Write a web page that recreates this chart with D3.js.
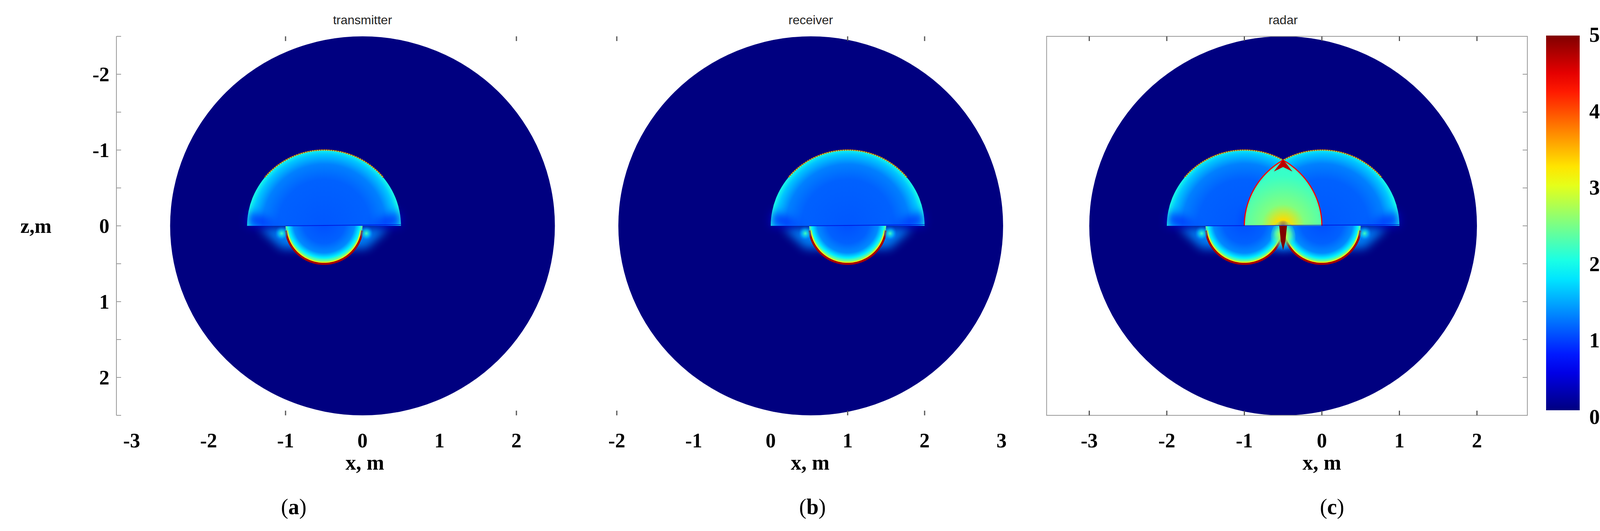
<!DOCTYPE html>
<html><head><meta charset="utf-8">
<script src="https://cdn.jsdelivr.net/npm/d3@7/dist/d3.min.js"></script>
<style>html,body{margin:0;background:#fff;overflow:hidden}</style>
</head><body>
<svg id="c" width="4177" height="1359"></svg>
<script>
// ---------------- data ----------------
const panelTitles = ["transmitter", "receiver", "radar"];
const panelLetters = ["a", "b", "c"];
const domainCenters = [0, 0.52, -0.5];      // x of circular domain centre (m)
const domainRadius = 2.5;                     // m
const capCenters = [[-0.5], [1.0], [-1.0, 0.0]];  // upper hemisphere centres (m)
const capRadius = 1.0;
const cupRadius = 0.5;
const capStops = [0, 0.6, 0.8, 0.93, 1.0];
const capValues = [1.05, 1.1, 1.25, 1.6, 2.0];
const cupStops = [0, 0.55, 0.8, 0.93, 1.0];
const cupValues = [1.0, 1.1, 1.3, 1.8, 2.4];
const rimValue = 4.6;
const lensStops = [0, 0.08, 0.3, 0.7, 1.0];
const lensValues = [4.6, 3.3, 2.5, 2.15, 2.1];
const glowValue = 1.3;
const spikeValue = 5.0;
const xTickLabels = [[-3, -2, -1, 0, 1, 2], [-2, -1, 0, 1, 2, 3], [-3, -2, -1, 0, 1, 2]];
const xFrameTicks = [[-1, 2], [-2, 1, 2], [-3, -2, -1, 0, 1, 2]];
const zTickLabels = [-2, -1, 0, 1, 2];
const zMinorTicks = [-2.5, -2, -1.5, -1, -0.5, 0, 0.5, 1, 1.5, 2, 2.5];
const colorbarTicks = [0, 1, 2, 3, 4, 5];

// ---------------- layout ----------------
const xOrigin = [928, 1973, 3384], xUnit = [197, 197, 198.5];
const zScale = d3.scaleLinear().domain([-2.5, 2.5]).range([93, 1063]);
const vmax = 5;
function jet(v) {
  const t = Math.max(0, Math.min(1, v / vmax));
  const c = x => Math.round(255 * Math.max(0, Math.min(1, 1.5 - Math.abs(x))));
  return `rgb(${c(4 * t - 3)},${c(4 * t - 2)},${c(4 * t - 1)})`;
}
const svg = d3.select("#c");
const defs = svg.append("defs");
let gid = 0;
function radial(cx, cy, r, offs, vals, opac) {
  const id = "g" + (gid++);
  const g = defs.append("radialGradient").attr("id", id).attr("gradientUnits", "userSpaceOnUse")
    .attr("cx", cx).attr("cy", cy).attr("r", r);
  vals.forEach((v, i) => g.append("stop").attr("offset", offs[i])
    .attr("stop-color", jet(v)).attr("stop-opacity", opac ? opac[i] : 1));
  return `url(#${id})`;
}
const serif = "'Liberation Serif','DejaVu Serif',serif";
const sans = "'Liberation Sans',Arial,sans-serif";
const blur = defs.append("filter").attr("id", "blur").attr("filterUnits", "userSpaceOnUse")
  .attr("x", 0).attr("y", 0).attr("width", 4177).attr("height", 1359);
blur.append("feGaussianBlur").attr("stdDeviation", 12);

panelTitles.forEach((title, p) => {
  const xs = d3.scaleLinear().domain([0, 1]).range([xOrigin[p], xOrigin[p] + xUnit[p]]);
  const ux = xUnit[p], uz = zScale(1) - zScale(0);
  const g = svg.append("g");
  const z0 = zScale(0);
  g.append("ellipse").attr("cx", xs(domainCenters[p])).attr("cy", zScale(0))
    .attr("rx", ux * domainRadius).attr("ry", uz * domainRadius).attr("fill", jet(0));
  const upper = (cx, r) => `M${xs(cx - r)},${z0} A${ux * r},${uz * r} 0 0 1 ${xs(cx + r)},${z0} Z`;
  const lower = (cx, r) => `M${xs(cx - r)},${z0} A${ux * r},${uz * r} 0 0 0 ${xs(cx + r)},${z0} Z`;
  const caps = capCenters[p];
  caps.forEach(cx => {
    g.append("path").attr("d", `M${xs(cx - 0.85)},${z0 + 4} L${xs(cx + 0.85)},${z0 + 4} L${xs(cx + 0.55)},${zScale(0.3)} L${xs(cx - 0.55)},${zScale(0.3)} Z`)
      .attr("fill", jet(glowValue)).attr("filter", "url(#blur)").attr("opacity", 0.9);
  });
  caps.forEach(cx => {
    g.append("path").attr("d", upper(cx, capRadius))
      .attr("fill", radial(xs(cx), z0, ux * capRadius, capStops, capValues));
    [-1, 1].forEach(s => g.append("path").attr("d", `M${xs(cx + s * 1.0)},${z0} L${xs(cx + s * 0.6)},${z0} L${xs(cx + s * 0.97)},${zScale(-0.2)} Z`)
      .attr("fill", jet(0.6)).attr("filter", "url(#blur)").attr("opacity", 0.7));
    const a0 = Math.PI * 0.22, a1 = Math.PI * 0.78;
    const arc = d3.range(a0, a1 + 0.001, (a1 - a0) / 60).map(a => [xs(cx + capRadius * Math.cos(a)), zScale(-capRadius * Math.sin(a))]);
    g.append("path").attr("d", d3.line()(arc)).attr("fill", "none").attr("stroke", jet(3.3)).attr("stroke-width", 3).attr("opacity", 0.7);
    g.append("path").attr("d", d3.line()(arc)).attr("fill", "none").attr("stroke", jet(rimValue + 0.3)).attr("stroke-width", 3).attr("stroke-dasharray", "2 4").attr("opacity", 0.8);
  });
  if (caps.length === 2) {
    const cid = "clip" + p;
    defs.append("clipPath").attr("id", cid).append("path").attr("d", upper(caps[1], capRadius));
    const lm = (caps[0] + caps[1]) / 2;
    g.append("path").attr("d", upper(caps[0], capRadius)).attr("clip-path", `url(#${cid})`)
      .attr("fill", radial(xs(lm), z0, uz * 0.95, lensStops, lensValues));
    [[caps[0], 0, Math.PI / 3], [caps[1], 2 * Math.PI / 3, Math.PI]].forEach(([cx, a0, a1]) => {
      const arc = d3.range(a0, a1 + 0.001, (a1 - a0) / 40).map(a => [xs(cx + capRadius * Math.cos(a)), zScale(-capRadius * Math.sin(a))]);
      g.append("path").attr("d", d3.line()(arc)).attr("fill", "none").attr("stroke", jet(4.4)).attr("stroke-width", 3);
    });
    const pk = -Math.sqrt(3) / 2;
    g.append("path").attr("d", `M${xs(lm)},${zScale(pk) - 2} L${xs(lm + 0.12)},${zScale(pk + 0.15)} L${xs(lm)},${zScale(pk + 0.09)} L${xs(lm - 0.12)},${zScale(pk + 0.15)} Z`)
      .attr("fill", jet(4.7));
  }
  caps.forEach(cc => {
    g.append("path").attr("d", lower(cc, cupRadius))
      .attr("fill", radial(xs(cc), zScale(-0.05), ux * cupRadius, cupStops, cupValues));
    const a0 = -Math.PI * 0.04, a1 = -Math.PI * 0.96;
    const arc = d3.range(a0, a1 - 0.001, (a1 - a0) / 60).map(a => [xs(cc + cupRadius * Math.cos(a)), zScale(-cupRadius * Math.sin(a))]);
    g.append("path").attr("d", d3.line()(arc)).attr("fill", "none").attr("stroke", jet(rimValue + 0.2)).attr("stroke-width", 6);
    const arc2 = arc.map(([x, y]) => [xs(cc) + (x - xs(cc)) * 0.96, z0 + (y - z0) * 0.96]);
    g.append("path").attr("d", d3.line()(arc2)).attr("fill", "none").attr("stroke", jet(3.0)).attr("stroke-width", 3);
    [-1, 1].forEach(s => g.append("ellipse").attr("cx", xs(cc + s * 0.55)).attr("cy", zScale(0.1))
      .attr("rx", ux * 0.08).attr("ry", uz * 0.12).attr("fill", radial(xs(cc + s * 0.55), zScale(0.1), ux * 0.1, [0, 0.5, 1], [2.2, 1.6, 1.0], [1, 0.6, 0])));
  });
  if (caps.length === 2) {
    const lm = (caps[0] + caps[1]) / 2;
    g.append("ellipse").attr("cx", xs(lm)).attr("cy", zScale(0.15)).attr("rx", ux * 0.16).attr("ry", uz * 0.22)
      .attr("fill", radial(xs(lm), zScale(0.12), ux * 0.2, [0, 0.5, 1], [3.0, 2.4, 1.6], [1, 0.7, 0]));
    g.append("path").attr("d", `M${xs(lm - 0.05)},${z0} L${xs(lm + 0.05)},${z0} L${xs(lm + 0.03)},${zScale(0.2)} L${xs(lm)},${zScale(0.32)} L${xs(lm - 0.03)},${zScale(0.2)} Z`)
      .attr("fill", jet(spikeValue));
  }
  const lx = [caps[0] - 0.5, caps[caps.length - 1] + 1];
  g.append("line").attr("x1", xs(lx[0])).attr("x2", xs(lx[1])).attr("y1", z0).attr("y2", z0 - 3)
    .attr("stroke", jet(0.4)).attr("stroke-width", 2).attr("opacity", 0.7);

  const xL = xs(-3.55), xR = xs(2.65), yT = zScale(-2.5), yB = zScale(2.5);
  if (p === 0) {
    svg.append("line").attr("x1", 298).attr("x2", 298).attr("y1", yT).attr("y2", yB).attr("stroke", "#999").attr("stroke-width", 2);
    zMinorTicks.forEach(z => svg.append("line").attr("x1", 298).attr("x2", 310).attr("y1", zScale(z)).attr("y2", zScale(z)).attr("stroke", "#999").attr("stroke-width", 2));
    zTickLabels.forEach(z => svg.append("text").attr("x", 280).attr("y", zScale(z)).attr("dy", "0.35em")
      .attr("text-anchor", "end").attr("font-family", serif).attr("font-weight", "bold").attr("font-size", 52).text(z));
    svg.append("text").attr("x", 92).attr("y", zScale(0)).attr("dy", "0.35em").attr("text-anchor", "middle")
      .attr("font-family", serif).attr("font-weight", "bold").attr("font-size", 52).text("z,m");
  }
  if (p === 2) {
    svg.append("rect").attr("x", xL).attr("y", yT).attr("width", xR - xL).attr("height", yB - yT)
      .attr("fill", "none").attr("stroke", "#999").attr("stroke-width", 2);
    zMinorTicks.slice(1, -1).forEach(z => svg.append("line").attr("x1", xR).attr("x2", xR - 12).attr("y1", zScale(z)).attr("y2", zScale(z)).attr("stroke", "#999").attr("stroke-width", 2));
  }
  xFrameTicks[p].forEach(x => {
    [[yT, 12], [yB, -12]].forEach(([y, d]) => svg.append("line").attr("x1", xs(x)).attr("x2", xs(x)).attr("y1", y).attr("y2", y + d)
      .attr("stroke", "#555").attr("stroke-width", 3));
  });
  xTickLabels[p].forEach(x => svg.append("text").attr("x", xs(x)).attr("y", 1127).attr("dy", "0.35em")
    .attr("text-anchor", "middle").attr("font-family", serif).attr("font-weight", "bold").attr("font-size", 52).text(x));
  const mid = [934, 2074, 3384][p];
  svg.append("text").attr("x", mid).attr("y", 1183).attr("dy", "0.35em").attr("text-anchor", "middle")
    .attr("font-family", serif).attr("font-weight", "bold").attr("font-size", 54).text("x, m");
  svg.append("text").attr("x", xs(domainCenters[p])).attr("y", 62).attr("text-anchor", "middle")
    .attr("font-family", sans).attr("font-size", 32).attr("fill", "#222").text(title);
  const lab = svg.append("text").attr("x", [752, 2080, 3410][p]).attr("y", 1296).attr("dy", "0.35em").attr("text-anchor", "middle")
    .attr("font-family", serif).attr("font-size", 56);
  lab.append("tspan").text("(");
  lab.append("tspan").attr("font-weight", "bold").text(panelLetters[p]);
  lab.append("tspan").text(")");
});

const cb = d3.scaleLinear().domain([0, 5]).range([1050, 91]);
const lg = defs.append("linearGradient").attr("id", "cbar").attr("x1", 0).attr("x2", 0).attr("y1", 1).attr("y2", 0);
d3.range(0, 5.001, 0.25).forEach(v => lg.append("stop").attr("offset", v / 5).attr("stop-color", jet(v)));
svg.append("rect").attr("x", 3958).attr("y", cb(5)).attr("width", 86).attr("height", cb(0) - cb(5)).attr("fill", "url(#cbar)");
const cbl = d3.scaleLinear().domain([0, 5]).range([1066, 88]);
colorbarTicks.forEach(v => svg.append("text").attr("x", 4082).attr("y", cbl(v)).attr("dy", "0.35em").attr("text-anchor", "middle")
  .attr("font-family", serif).attr("font-weight", "bold").attr("font-size", 54).text(v));
</script>
</body></html>
